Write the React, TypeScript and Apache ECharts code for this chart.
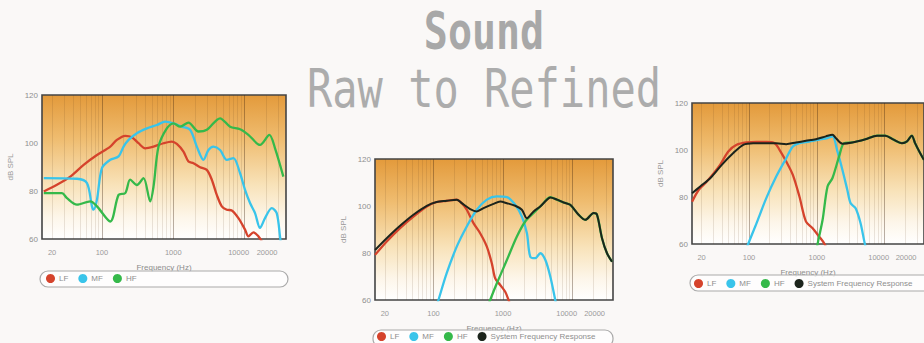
import React, { useEffect, useRef } from "react";
import * as echarts from "echarts";

// ---------- data (frequency in Hz, level in dB SPL) ----------
const xLabelHz = [20, 100, 1000, 10000, 20000];
const gridHz = [
  20, 30, 40, 50, 60, 70, 80, 90,
  100, 200, 300, 400, 500, 600, 700, 800, 900,
  1000, 2000, 3000, 4000, 5000, 6000, 7000, 8000, 9000,
  10000, 20000, 30000,
];
const yTicks = [60, 80, 100, 120];

// Chart 1 – raw drivers
const rawLF = [[15.3,79.8],[23.4,82.6],[36,86],[55.4,90.9],[85.2,95],[131,98.5],[162,101.3],[212,103],[263,102.4],[326,99.9],[404,97.8],[529,98.5],[730,99.9],[955,100.6],[1122,99.6],[1390,96.4],[1633,92.3],[1919,91.6],[2377,89.9],[2951,88.8],[3467,84.7],[4071,78.4],[4786,73.6],[5623,72.2],[6607,71.9],[8185,68.7],[10140,63.9],[11300,61.1],[13270,62.8],[15600,61.1],[17380,59]];
const rawMF = [[15.3,85.4],[44.7,85.1],[61.7,83.3],[72.5,73.6],[76.5,72.2],[85.2,76.4],[100,89.5],[131,93],[171,94.4],[201,98.5],[236,101.3],[309,104.1],[427,106.1],[589,107.5],[770,108.9],[1007,108.2],[1318,106.8],[1722,105.5],[2138,98.5],[2649,93],[3112,97.1],[3656,98.5],[4529,97.1],[5623,93],[6966,93.7],[8630,87.4],[10140,80.5],[11912,75],[13996,70.8],[16440,64.6],[19320,68.7],[23990,72.9],[28180,70.8],[31330,61.1],[33000,55]];
const rawHF = [[15.3,79.1],[27.5,79.1],[32.4,77],[44.7,74.3],[68.7,75.7],[85.2,73.6],[131,67.3],[171,78.4],[212,79.1],[249,84.7],[309,82.5],[383,85.4],[475,75.7],[529,81.9],[621,98.5],[812,106.1],[1007,108.2],[1248,106.8],[1633,108.5],[2254,104.8],[2951,105.5],[4529,110.3],[6252,106.8],[8630,105.7],[11300,103.4],[16440,99.2],[22230,103.4],[26690,97.8],[34910,86]];

// Chart 2 – crossed over
const midLF = [[14.5,79.2],[21.3,84.9],[33.1,90.6],[51.5,95.5],[80.2,99.8],[111,101.7],[155,102.2],[216,102.7],[255,101.2],[301,98.4],[376,92.7],[469,88.4],[585,82.7],[690,75.6],[771,69.2],[910,66.4],[1074,63.5],[1199,60],[1300,57]];
const midMF = [[110,57],[118,60],[155,71.4],[216,82.7],[301,91.3],[420,98.4],[585,102.7],[815,104.1],[1135,103.8],[1496,100.5],[1866,95.5],[2203,88.4],[2460,78.5],[2904,77.8],[3428,79.9],[4046,77.1],[4774,70],[5627,60],[6000,56]];
const midHF = [[600,57],[653,60],[815,67.1],[1135,77],[1581,87],[2084,93.4],[2747,97],[3624,100.5],[4276,102.9],[4774,103.8],[5947,102.7],[7417,101.5],[9247,100.5],[12180,96.3],[15200,94.1],[20040,97],[22390,96.3],[26430,86.3],[31190,79.9],[36810,76.3]];
const midSYS = [[14.5,81.3],[21.3,86.3],[33.1,91.6],[51.5,96.3],[80.2,100.1],[111,101.7],[155,102.2],[216,102.7],[255,101.2],[337,98.7],[420,97.7],[524,99.1],[729,100.9],[910,101.9],[1135,101.2],[1496,100.1],[1866,98.4],[2203,94.8],[2747,97.7],[3428,99.8],[4276,102.7],[4774,103.6],[5947,102.7],[7417,101.5],[9247,100.5],[12180,96.3],[15200,94.1],[20040,97],[22390,96.3],[26430,86.3],[31190,79.9],[36810,76.3]];

// Chart 3 – refined
const refLF = [[14.5,78],[18.1,83],[23.9,86.6],[37.5,93.7],[49.6,99.4],[65.7,102.2],[92,103.2],[129,103.4],[180,103.4],[239,102.9],[282,100.1],[354,95.1],[443,89.4],[554,80.2],[693,69.5],[867,66.7],[1086,63.1],[1284,60.3],[1400,58]];
const refMF = [[90,57],[97.3,60],[129,68.8],[180,79.5],[252,88.7],[354,96.5],[443,101.5],[554,102.9],[776,103.6],[1086,104.4],[1439,105.1],[1702,105.8],[2014,99.4],[2382,91.6],[2818,83],[3153,77.3],[3733,75.2],[4416,68.8],[5108,60],[5500,57]];
const refHF = [[1000,57],[1026,60],[1215,70.2],[1439,84.5],[1702,88.1],[2128,97.2],[2518,102.9],[3334,103.2],[5224,104.6],[7727,106.1],[10230,106.1],[13540,104.4],[17940,102.9],[21240,103.6],[25120,106.1],[28100,102.9],[33290,98.7],[38020,95.8]];
const refSYS = [[14.5,81.6],[19.1,84.5],[26.8,88],[39.7,93.7],[58.7,98.7],[82.3,102.2],[115,102.9],[180,102.9],[252,102.9],[354,102.5],[495,103.2],[693,103.9],[971,104.6],[1359,105.8],[1702,106.5],[1903,105.1],[2382,102.7],[3334,103.2],[5224,104.6],[7727,106.1],[10230,106.1],[13540,104.4],[17940,102.9],[21240,103.6],[25120,106.1],[28100,102.9],[33290,98.7],[38020,95.8]];

const legendRaw = ["LF", "MF", "HF"];
const legendFull = ["LF", "MF", "HF", "System Frequency Response"];

// ---------- styling ----------
const LOG_MIN = 1.16;
const LOG_MAX = 4.58;
const C_LF = "#d5432c";
const C_MF = "#39c4ea";
const C_HF = "#35b94a";
const C_SYS = "#1c241c";
const FONT = "Liberation Sans";

const grids = [
  { left: 42, top: 95, width: 244, height: 144 },
  { left: 375, top: 159, width: 238, height: 141 },
  { left: 692, top: 103, width: 234, height: 141 },
];

const plotBg = () =>
  new echarts.graphic.LinearGradient(0, 0, 0, 1, [
    { offset: 0, color: "#e39a3b" },
    { offset: 0.3, color: "#efbc6f" },
    { offset: 0.62, color: "#f8e2b8" },
    { offset: 0.85, color: "#fdf6ea" },
    { offset: 1, color: "#ffffff" },
  ]);

const toXY = (d: number[][]) => d.map(([f, v]) => [Math.log10(f), v]);

function line(name: string, data: number[][], color: string, idx: number, width = 2.3, z = 2) {
  return {
    type: "line",
    name,
    data: toXY(data),
    xAxisIndex: idx,
    yAxisIndex: idx,
    symbol: "none",
    showSymbol: false,
    smooth: 0.3,
    clip: true,
    z,
    lineStyle: { color, width },
    itemStyle: { color },
  };
}

const splitColors = [
  "rgba(90,55,20,0.16)", "rgba(90,55,20,0.16)", "rgba(90,55,20,0.16)",
  "rgba(90,55,20,0.16)", "rgba(90,55,20,0.16)", "rgba(90,55,20,0.16)",
  "rgba(90,55,20,0.16)", "rgba(90,55,20,0.16)", "rgba(60,35,15,0.45)",
];

function xLabelFormatter(v: number) {
  const hz = Math.round(Math.pow(10, v));
  if (hz === 10000) return "{l|" + hz + "}";
  if (hz === 20000) return "{r|" + hz + "}";
  return String(hz);
}

function xAxis(idx: number) {
  return {
    type: "value",
    gridIndex: idx,
    min: LOG_MIN,
    max: LOG_MAX,
    name: "Frequency (Hz)",
    nameLocation: "middle",
    nameGap: 24,
    nameTextStyle: { color: "#8c8c8c", fontSize: 8, fontFamily: FONT },
    axisLine: { show: false },
    axisTick: { show: false, customValues: gridHz.map((h) => Math.log10(h)) },
    splitLine: { show: true, lineStyle: { color: splitColors, width: 0.8 } },
    axisLabel: {
      customValues: xLabelHz.map((h) => Math.log10(h)),
      formatter: xLabelFormatter,
      color: "#9a9a9a",
      fontSize: 7.5,
      margin: 9,
      hideOverlap: false,
      fontFamily: FONT,
      rich: {
        l: { color: "#9a9a9a", fontSize: 7.5, fontFamily: FONT, padding: [0, 12, 0, 0] },
        r: { color: "#9a9a9a", fontSize: 7.5, fontFamily: FONT, padding: [0, 0, 0, 2] },
      },
    },
  };
}

function yAxis(idx: number) {
  return {
    type: "value",
    gridIndex: idx,
    min: 60,
    max: 120,
    interval: 20,
    name: "dB SPL",
    nameLocation: "middle",
    nameGap: 28,
    nameRotate: 90,
    nameTextStyle: { color: "#9a9a9a", fontSize: 8, fontFamily: FONT },
    axisLine: { show: false },
    axisTick: { show: false },
    splitLine: { show: false },
    axisLabel: {
      customValues: yTicks,
      color: "#8f8f8f",
      fontSize: 8,
      margin: 4,
      fontFamily: FONT,
    },
  };
}

function legend(data: string[], left: number, top: number) {
  return {
    data,
    left,
    top,
    icon: "circle",
    itemWidth: 9,
    itemHeight: 9,
    itemGap: 10,
    padding: 0,
    orient: "horizontal",
    textStyle: { color: "#8e8e8e", fontSize: 8, fontFamily: FONT, padding: [0, 0, 0, -1] },
  };
}

function box(x: number, y: number, w: number, h: number) {
  return {
    type: "rect",
    z: 1,
    shape: { x, y, width: w, height: h, r: 8 },
    style: { fill: "rgba(255,255,255,0.75)", stroke: "#a9a9a9", lineWidth: 1.2 },
  };
}

export default function App() {
  const ref = useRef<HTMLDivElement>(null);

  useEffect(() => {
    if (!ref.current) return;
    const chart = echarts.init(ref.current, undefined, { renderer: "svg" });
    const option: any = {
      animation: false,
      backgroundColor: "#faf8f7",
      textStyle: { fontFamily: FONT },
      grid: grids.map((g) => ({
        ...g,
        show: true,
        backgroundColor: plotBg(),
        borderColor: "#444",
        borderWidth: 1.6,
      })),
      xAxis: [xAxis(0), xAxis(1), xAxis(2)],
      yAxis: [yAxis(0), yAxis(1), yAxis(2)],
      legend: [
        legend(legendRaw, 46, 274),
        legend(legendFull, 377, 332),
        legend(legendFull, 694, 279),
      ],
      graphic: [
        box(40, 271, 248, 16),
        box(373, 330, 240, 17),
        box(690, 275, 250, 16),
        {
          type: "text",
          x: 484,
          y: 31,
          scaleY: 1.3,
          z: 5,
          style: {
            text: "Sound",
            font: 'bold 40px "DejaVu Sans Mono"',
            fill: "#a8a8a8",
            textAlign: "center",
            textVerticalAlign: "middle",
          },
        },
        {
          type: "text",
          x: 484,
          y: 89,
          scaleY: 1.25,
          z: 5,
          style: {
            text: "Raw to Refined",
            font: '42px "DejaVu Sans Mono"',
            fill: "#acacac",
            textAlign: "center",
            textVerticalAlign: "middle",
          },
        },
      ],
      series: [
        line("LF", rawLF, C_LF, 0),
        line("MF", rawMF, C_MF, 0),
        line("HF", rawHF, C_HF, 0),
        line("LF", midLF, C_LF, 1),
        line("MF", midMF, C_MF, 1),
        line("HF", midHF, C_HF, 1),
        line("System Frequency Response", midSYS, C_SYS, 1, 2, 3),
        line("LF", refLF, C_LF, 2),
        line("MF", refMF, C_MF, 2),
        line("HF", refHF, C_HF, 2),
        line("System Frequency Response", refSYS, C_SYS, 2, 2, 3),
      ],
    };
    chart.setOption(option);
    return () => chart.dispose();
  }, []);

  return (
    <div
      ref={ref}
      style={{ position: "absolute", left: 0, top: 0, width: 924, height: 343 }}
    />
  );
}
